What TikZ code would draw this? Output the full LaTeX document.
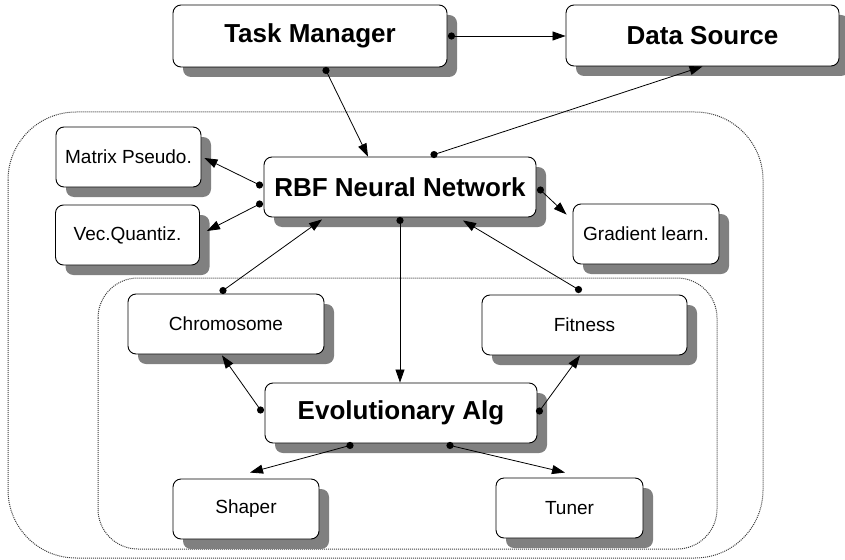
\documentclass[tikz,border=0pt]{standalone}
\usepackage{fontspec}
\setmainfont{Liberation Sans}
\usetikzlibrary{shadows,arrows.meta,calc}
\definecolor{shadowgray}{RGB}{128,128,128}
\definecolor{dotgray}{RGB}{60,60,60}
\tikzset{
  box/.style={draw=black, line width=0.9pt, fill=white, rounded corners=8pt,
    inner sep=0pt, align=center,
    drop shadow={shadow xshift=10pt, shadow yshift=-10pt, opacity=1, fill=shadowgray}},
  big/.style={box, font=\fontsize{26}{31}\selectfont\bfseries},
  small/.style={box, font=\fontsize{19}{23}\selectfont},
  conn/.style={draw=black, line width=0.8pt, -{Triangle[length=13pt,width=9pt]}},
  dotend/.style={fill=black},
  container/.style={draw=dotgray, line width=1pt, dash pattern=on 1pt off 1pt},
}
\begin{document}
\begin{tikzpicture}[x=1pt,y=-1pt]
\useasboundingbox (0,0) rectangle (845,559);
% containers
\draw[container, rounded corners=68pt] (8,112) rectangle (763,558);
\draw[container, rounded corners=40pt] (98,278) rectangle (717,549);
% boxes
\node[big, minimum width=274pt, minimum height=62pt] (tm) at (310,36) {Task Manager};
\node[big, minimum width=273pt, minimum height=61pt] (ds) at (702.5,35.5) {Data Source};
\node[big, minimum width=272pt, minimum height=60pt] (rbf) at (400,187) {RBF Neural Network};
\node[small, minimum width=145pt, minimum height=60pt] (mp) at (128.5,157) {Matrix Pseudo.};
\node[small, minimum width=144pt, minimum height=60pt] (vq) at (127.5,235) {Vec.Quantiz.};
\node[small, minimum width=146pt, minimum height=60pt] (gl) at (646,234) {Gradient learn.};
\node[small, minimum width=196pt, minimum height=60pt] (ch) at (226,324) {Chromosome};
\node[small, minimum width=205pt, minimum height=60pt] (fi) at (584.5,325) {Fitness};
\node[big, minimum width=272pt, minimum height=60pt] (ev) at (401,413) {Evolutionary Alg};
\node[small, minimum width=146pt, minimum height=60pt] (sh) at (246,509) {Shaper};
\node[small, minimum width=147pt, minimum height=60pt] (tu) at (569.5,508) {Tuner};
% connectors
\draw[conn] ($(tm.east)+(4,0)$) -- (tm.east -| ds.west);
\fill[dotend] ($(tm.east)+(4,0)$) circle (3.6pt);
\draw[conn] ($(tm.south)+(16,3)$) -- ($(rbf.north)+(-32,0)$);
\fill[dotend] ($(tm.south)+(16,3)$) circle (3.6pt);
\draw[conn] ($(rbf.north)+(34,-2)$) -- (ds.south);
\fill[dotend] ($(rbf.north)+(34,-2)$) circle (3.6pt);
\draw[conn] ($(rbf.west)+(-4,-2)$) -- ($(mp.east)+(3,1)$);
\fill[dotend] ($(rbf.west)+(-4,-2)$) circle (3.6pt);
\draw[conn] ($(rbf.west)+(-4,17)$) -- ($(vq.east)+(7,-4)$);
\fill[dotend] ($(rbf.west)+(-4,17)$) circle (3.6pt);
\draw[conn] ($(rbf.east)+(4,3)$) -- ($(gl.north west)+(-6,11)$);
\fill[dotend] ($(rbf.east)+(4,3)$) circle (3.6pt);
\draw[conn] ($(ch.north)+(-3,-3)$) -- ($(rbf.south)+(-78,2)$);
\fill[dotend] ($(ch.north)+(-3,-3)$) circle (3.6pt);
\draw[conn] ($(rbf.south)+(0,3)$) -- (ev.north -| rbf.south);
\fill[dotend] ($(rbf.south)+(0,3)$) circle (3.6pt);
\draw[conn] ($(fi.north)+(-6,-5)$) -- ($(rbf.south)+(63,3)$);
\fill[dotend] ($(fi.north)+(-6,-5)$) circle (3.6pt);
\draw[conn] ($(ev.west)+(-4,-3)$) -- ($(ch.south)+(-4,1)$);
\fill[dotend] ($(ev.west)+(-4,-3)$) circle (3.6pt);
\draw[conn] ($(ev.east)+(2,-2)$) -- ($(fi.south)+(-4.5,0)$);
\fill[dotend] ($(ev.east)+(2,-2)$) circle (3.6pt);
\draw[conn] ($(ev.south)+(-51,2)$) -- ($(sh.north)+(4,-6)$);
\fill[dotend] ($(ev.south)+(-51,2)$) circle (3.6pt);
\draw[conn] ($(ev.south)+(49,2)$) -- ($(tu.north)+(-4.5,-5)$);
\fill[dotend] ($(ev.south)+(49,2)$) circle (3.6pt);
\end{tikzpicture}
\end{document}
